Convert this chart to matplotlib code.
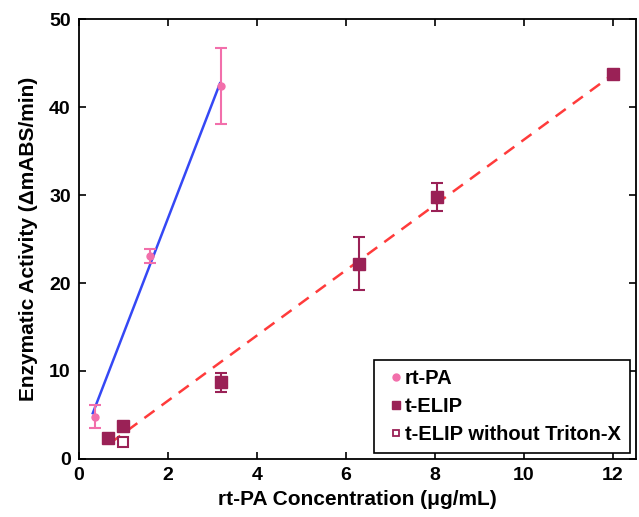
import matplotlib
matplotlib.use("Agg")
import matplotlib.pyplot as plt
from matplotlib.lines import Line2D

plt.rcParams["font.family"] = ["Liberation Sans", "DejaVu Sans"]
plt.rcParams["font.weight"] = "bold"

# rt-PA (free drug)
rtpa_x = [0.35, 1.6, 3.2]
rtpa_y = [4.8, 23.1, 42.4]
rtpa_err = [1.3, 0.8, 4.3]
rtpa_fit_x = [0.31, 3.17]
rtpa_fit_y = [5.2, 42.7]

# t-ELIP
elip_x = [0.65, 1.0, 3.2, 6.3, 8.05, 12.0]
elip_y = [2.4, 3.7, 8.7, 22.2, 29.8, 43.8]
elip_err = [0.0, 0.0, 1.1, 3.0, 1.6, 0.0]
elip_fit_x = [0.7, 12.0]
elip_fit_y = [1.8, 43.7]

# t-ELIP without Triton-X
notx_x = [1.0]
notx_y = [1.9]

pink = "#F26FAB"
maroon = "#9A2156"

fig = plt.figure(figsize=(6.39, 5.17), dpi=100)
ax = fig.add_axes([0.1236, 0.1122, 0.8717, 0.851])

ax.plot(rtpa_fit_x, rtpa_fit_y, color="#3548F5", lw=1.8)
ax.plot(elip_fit_x, elip_fit_y, color="#FF3B3B", lw=1.8, ls=(0, (5, 3.5)))

ax.errorbar(rtpa_x, rtpa_y, yerr=rtpa_err, fmt="o", color=pink, ms=5,
            capsize=4, elinewidth=1.5, capthick=1.5)
ax.errorbar(elip_x, elip_y, yerr=elip_err, fmt="s", color=maroon, ms=8,
            capsize=4, elinewidth=1.5, capthick=1.5)
ax.plot(notx_x, notx_y, "s", mfc="white", mec=maroon, mew=1.5, ms=7)

ax.set_xlim(0, 12.52)
ax.set_ylim(0, 50)
ax.set_xticks(range(0, 13, 2))
ax.set_yticks(range(0, 51, 10))
ax.tick_params(direction="in", top=True, right=True, length=5, width=1.2,
               labelsize=14, pad=6)
for lab in ax.get_xticklabels() + ax.get_yticklabels():
    lab.set_fontweight("bold")
for s in ax.spines.values():
    s.set_linewidth(1.3)

ax.set_xlabel("rt-PA Concentration (\u03bcg/mL)", fontsize=15, fontweight="bold", labelpad=4)
ax.set_ylabel("Enzymatic Activity (\u0394mABS/min)", fontsize=15, fontweight="bold", labelpad=8)

handles = [
    Line2D([], [], ls="none", marker="o", color=pink, ms=5),
    Line2D([], [], ls="none", marker="s", color=maroon, ms=6),
    Line2D([], [], ls="none", marker="s", mfc="white", mec=maroon, mew=1.3, ms=5),
]
# long handle + negative pad pushes the markers right, next to the text
leg = ax.legend(handles, ["rt-PA", "t-ELIP", "t-ELIP without Triton-X"],
                loc="lower right", prop={"weight": "bold", "size": 14.5},
                handlelength=1.3, handletextpad=-0.2, borderaxespad=0.3,
                fancybox=False, edgecolor="black", framealpha=1,
                borderpad=0.45, labelspacing=0.45)
leg.get_frame().set_linewidth(1.2)

fig.savefig("out.png", dpi=100)
